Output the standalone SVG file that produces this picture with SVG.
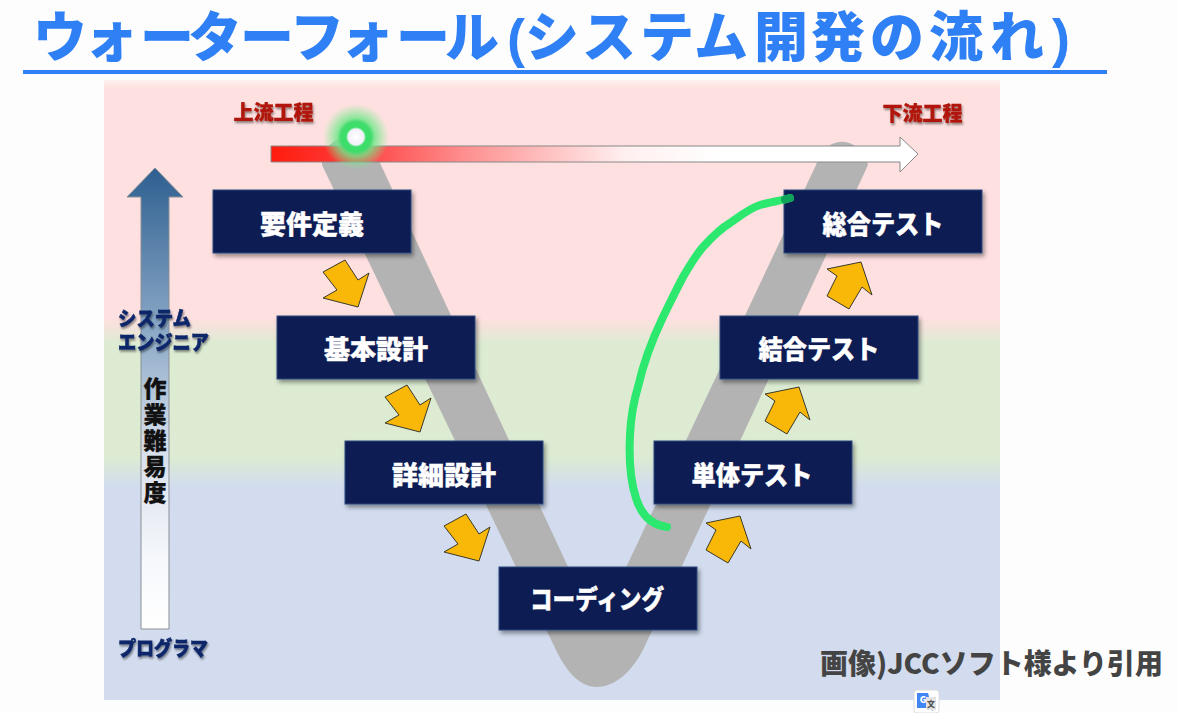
<svg xmlns="http://www.w3.org/2000/svg" xmlns:xlink="http://www.w3.org/1999/xlink" width="1178" height="713" viewBox="0 0 1178 713">
<style>
text{font-family:"Noto Sans CJK JP","Noto Sans",sans-serif;font-weight:900}
.tight{font-family:"Liberation Sans","Noto Sans CJK JP",sans-serif}
.box{fill:#0c1c52;stroke:#2f4a80;stroke-width:1;filter:url(#sh)}
.lbl{fill:#fff;stroke:#fff;stroke-width:.4;font-size:26px;text-anchor:middle}
.flow{fill:#b01408;stroke:#b01408;stroke-width:.3;font-size:20px;text-anchor:middle;filter:url(#ts)}
.role{fill:#10286a;stroke:#10286a;stroke-width:.6;font-size:20px;filter:url(#ts)}
.dif{fill:#111;font-size:23px;stroke:#111;stroke-width:.3;letter-spacing:3px}
.ar{fill:#f9b707;stroke:#3a3a2a;stroke-width:1}
</style>
<defs>
<filter id="sh" x="-10%" y="-10%" width="125%" height="130%"><feDropShadow dx="2" dy="3" stdDeviation="2" flood-color="#000" flood-opacity=".4"/></filter>
<filter id="ts" x="-10%" y="-20%" width="125%" height="150%"><feDropShadow dx="1" dy="2" stdDeviation=".8" flood-color="#000" flood-opacity=".45"/></filter>
<linearGradient id="bg" x1="0" y1="0" x2="0" y2="1">
<stop offset="0" stop-color="#fdf0ee"/><stop offset=".015" stop-color="#fde0df"/><stop offset=".387" stop-color="#fde0df"/><stop offset=".427" stop-color="#dcebd2"/><stop offset=".608" stop-color="#dcebd2"/><stop offset=".656" stop-color="#d2dcee"/><stop offset="1" stop-color="#d2dcee"/>
</linearGradient>
<linearGradient id="ha" gradientUnits="userSpaceOnUse" x1="271" y1="0" x2="918" y2="0">
<stop offset="0" stop-color="#ff1c0c"/><stop offset=".12" stop-color="#fe3a3a"/><stop offset=".3" stop-color="#fe8f8f"/><stop offset=".55" stop-color="#fff0f0"/><stop offset=".7" stop-color="#fff"/><stop offset="1" stop-color="#fff"/>
</linearGradient>
<linearGradient id="va" gradientUnits="userSpaceOnUse" x1="0" y1="168" x2="0" y2="629">
<stop offset="0" stop-color="#2e5f90"/><stop offset=".35" stop-color="#8aa8c6"/><stop offset=".6" stop-color="#d5deea"/><stop offset=".85" stop-color="#f6f8fc"/><stop offset="1" stop-color="#fff"/>
</linearGradient>
<radialGradient id="glow">
<stop offset="0" stop-color="#fff"/><stop offset=".24" stop-color="#f0f0f8"/><stop offset=".3" stop-color="#3be06a"/><stop offset=".46" stop-color="#40dc6c"/><stop offset=".58" stop-color="#70e88a" stop-opacity=".8"/><stop offset="1" stop-color="#80ee90" stop-opacity="0"/>
</radialGradient>
<polygon id="down" class="ar" points="323,272 345,260 358,280 369,273 358,307 323,298 337,290"/>
<polygon id="up" class="ar" points="827,269 861,262 872,295 862,287 849,309 827,296 837,276"/>
</defs>
<rect width="1178" height="713" fill="#fdfdfd"/>
<text class="tight" font-size="54" fill="#2f80f5" y="57" x="33 84 140 188 240 290 340 396 445 507 525 582 640 694 754 811 870 929 990 1052">ウォーターフォール(システム開発の流れ)</text>
<rect x="23" y="70" width="1084" height="4" fill="#2f80f5"/>
<rect x="104" y="80" width="896" height="620" fill="url(#bg)"/>
<path d="M322,165 L556,650 C568,675 582,687 597,687 C612,687 630,675 643,650 L868,165 A27,32 0 0 0 816,165 L597,629 L380,163 A29,28 0 0 0 322,165 Z" fill="#b3b3b3"/>

<g id="flow-arrow">
<polygon points="271,146 900,146 900,137 918,154 900,172 900,162 271,162" fill="url(#ha)" stroke="#888" stroke-width="1"/>
<circle cx="356" cy="137" r="33" fill="url(#glow)"/>
<text class="flow" x="273.500" y="120">上流工程</text>
<text class="flow" x="922.500" y="121">下流工程</text>
</g>

<g id="difficulty-arrow">
<polygon points="141,629 141,197 127,197 155,168 183,197 169,197 169,629" fill="url(#va)" stroke="#8a8f96" stroke-width="1"/>
<text class="role tight" x="118" y="326" textLength="73" lengthAdjust="spacingAndGlyphs">システム</text>
<text class="role tight" x="118" y="350" textLength="91" lengthAdjust="spacingAndGlyphs">エンジニア</text>
<text class="role tight" x="118" y="656" textLength="90" lengthAdjust="spacingAndGlyphs">プログラマ</text>
<text class="dif" x="155" y="377" writing-mode="vertical-rl">作業難易度</text>
</g>

<g id="connectors">
<use xlink:href="#down" href="#down"/>
<use xlink:href="#down" href="#down" x="62" y="125"/>
<use xlink:href="#down" href="#down" x="121" y="254"/>
<use xlink:href="#up" href="#up" x="-121" y="254"/>
<use xlink:href="#up" href="#up" x="-62" y="125"/>
<use xlink:href="#up" href="#up"/>
</g>

<g id="n-youken"><rect class="box" x="213" y="190" width="198" height="63"/><text class="lbl" x="312" y="234">要件定義</text></g>
<g id="n-kihon"><rect class="box" x="277" y="316" width="198" height="63"/><text class="lbl" x="376" y="359">基本設計</text></g>
<g id="n-shosai"><rect class="box" x="345" y="441" width="198" height="63"/><text class="lbl" x="444" y="485">詳細設計</text></g>
<g id="n-coding"><rect class="box" x="499" y="567" width="198" height="63"/><text class="lbl" x="597" y="609" textLength="134" lengthAdjust="spacingAndGlyphs">コーディング</text></g>
<g id="n-tantai"><rect class="box" x="654" y="441" width="198" height="63"/><text class="lbl" x="752" y="485" textLength="121" lengthAdjust="spacingAndGlyphs">単体テスト</text></g>
<g id="n-ketsugo"><rect class="box" x="720" y="316" width="198" height="63"/><text class="lbl" x="819" y="359" textLength="121" lengthAdjust="spacingAndGlyphs">結合テスト</text></g>
<g id="n-sogo"><rect class="box" x="784" y="190" width="198" height="63"/><text class="lbl" x="883" y="234" textLength="121" lengthAdjust="spacingAndGlyphs">総合テスト</text></g>

<g id="annotation">
<path d="M667,527 C650,525 641,514 636,498 C630,480 629,455 630,435 C631,415 634,400 638,387 C644,360 652,340 663,317 C670,303 676,290 683,277 C690,265 696,255 703,247 C712,237 720,229 730,223 C740,216 750,208 760,205 C770,202 780,201 790,198" fill="none" stroke="#2de86e" stroke-width="8" stroke-linecap="round" stroke-linejoin="round"/>
<path d="M785,199.500 L790,198" fill="none" stroke="#0fa45a" stroke-width="8" stroke-linecap="round"/>
</g>

<text x="820" y="674" font-size="28" fill="#444" textLength="343" lengthAdjust="spacingAndGlyphs">画像)JCCソフト様より引用</text>

<g id="translate-icon">
<rect x="914" y="690" width="25" height="23" rx="3" fill="#fff" stroke="#ddd"/>
<path d="M917,693 H928 L933,711 L928,708 H917 Z" fill="#4285f4"/>
<rect x="926" y="697" width="10" height="13" fill="#e4e4e4"/>
<text x="923" y="703" font-size="9" fill="#fff" text-anchor="middle" font-family="Liberation Sans">G</text>
<text x="931" y="707" font-size="8" fill="#555" text-anchor="middle">文</text>
</g>
</svg>
